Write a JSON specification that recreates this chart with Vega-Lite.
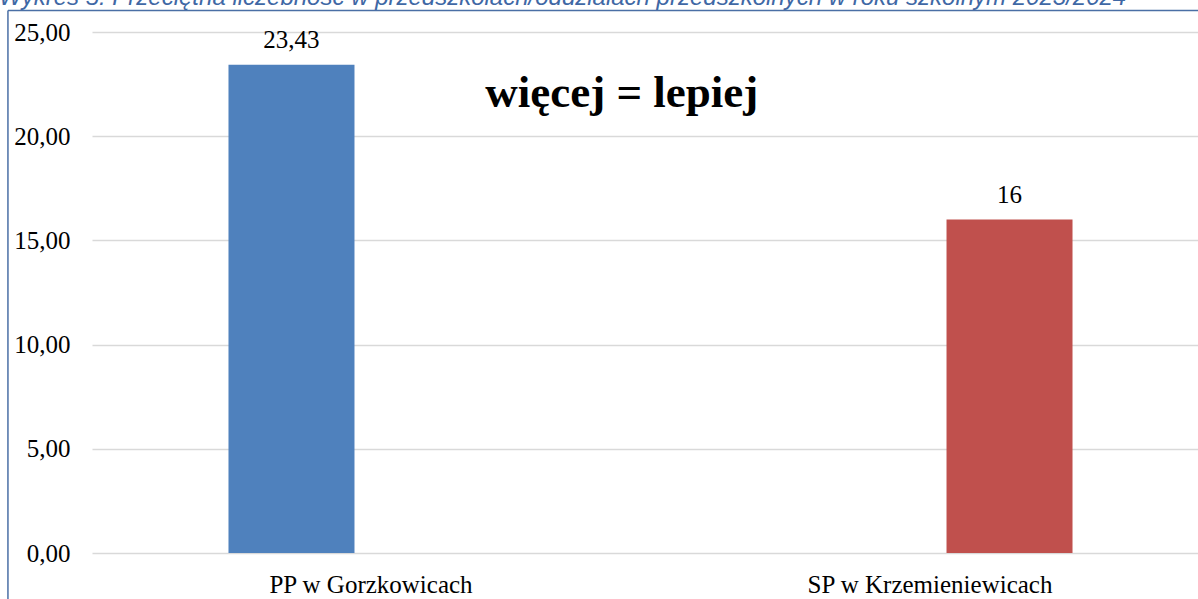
{
  "$schema": "https://vega.github.io/schema/vega-lite/v6.json",
  "width": 1106,
  "height": 521,
  "autosize": {"type": "none"},
  "padding": {"left": 92, "top": 32, "right": 0, "bottom": 46},
  "background": "white",
  "title": {
    "text": "Wykres 5. Przeciętna liczebność w przedszkolach/oddziałach przedszkolnych  w roku szkolnym 2023/2024",
    "anchor": "start",
    "frame": "group",
    "offset": 0,
    "dx": -93,
    "dy": 0,
    "font": "Liberation Sans",
    "fontStyle": "italic",
    "fontWeight": "normal",
    "fontSize": 24,
    "color": "#3F68A5"
  },
  "config": {"view": {"stroke": null}},
  "datasets": {
    "bars": [
      {"placowka": "PP w Gorzkowicach", "seria": "PP w Gorzkowicach", "srednia": 23.43},
      {"placowka": "SP w Krzemieniewicach", "seria": "SP w Krzemieniewicach", "srednia": 16}
    ],
    "note": [{"tekst": "więcej = lepiej", "px": 0.479, "py": 21.4}],
    "frame": [
      {"x1": -0.076, "x2": 1.1, "y1": 26.03, "y2": 26.03},
      {"x1": -0.076, "x2": -0.076, "y1": 26.03, "y2": -3}
    ]
  },
  "layer": [
    {
      "data": {"name": "bars"},
      "encoding": {
        "x": {
          "field": "placowka",
          "type": "nominal",
          "sort": null,
          "scale": {"paddingInner": 0.4902, "paddingOuter": 0.2343, "align": 0.521},
          "axis": {
            "title": null,
            "labelAngle": 0,
            "labelFont": "Liberation Serif",
            "labelFontSize": 25,
            "labelColor": "black",
            "labelPadding": 19,
            "labelLimit": 0,
            "ticks": false,
            "domain": false
          }
        },
        "xOffset": {
          "field": "seria",
          "type": "nominal",
          "scale": {"domain": ["PP w Gorzkowicach", "SP w Krzemieniewicach"], "paddingInner": 0.2075, "paddingOuter": 0}
        },
        "y": {
          "field": "srednia",
          "type": "quantitative",
          "title": null,
          "scale": {"domain": [0, 25], "nice": false},
          "axis": {
            "title": null,
            "values": [0, 5, 10, 15, 20, 25],
            "labelExpr": "replace(format(datum.value, '.2f'), '.', ',')",
            "labelFont": "Liberation Serif",
            "labelFontSize": 25,
            "labelColor": "black",
            "labelPadding": 22,
            "ticks": false,
            "domain": false,
            "grid": true,
            "gridColor": "#D9D9D9",
            "gridWidth": 1.5
          }
        }
      },
      "layer": [
        {
          "mark": {"type": "bar"},
          "encoding": {
            "color": {
              "field": "seria",
              "type": "nominal",
              "scale": {"domain": ["PP w Gorzkowicach", "SP w Krzemieniewicach"], "range": ["#4F81BD", "#C0504D"]},
              "legend": null
            }
          }
        },
        {
          "transform": [{"calculate": "replace(toString(datum.srednia), '.', ',')", "as": "etykieta"}],
          "mark": {"type": "text", "baseline": "alphabetic", "dy": -17, "font": "Liberation Serif", "fontSize": 25, "color": "black"},
          "encoding": {"text": {"field": "etykieta", "type": "nominal"}}
        }
      ]
    },
    {
      "data": {"name": "frame"},
      "mark": {"type": "rule", "color": "#4A6FA5", "strokeWidth": 1.5},
      "encoding": {
        "x": {"field": "x1", "type": "quantitative", "scale": {"domain": [0, 1], "nice": false, "zero": false}, "axis": null},
        "x2": {"field": "x2"},
        "y": {"field": "y1", "type": "quantitative", "title": null},
        "y2": {"field": "y2"}
      }
    },
    {
      "data": {"name": "note"},
      "mark": {"type": "text", "baseline": "alphabetic", "align": "center", "font": "Liberation Serif", "fontWeight": "bold", "fontSize": 45, "color": "black"},
      "encoding": {
        "x": {"field": "px", "type": "quantitative", "scale": {"domain": [0, 1], "nice": false, "zero": false}, "axis": null},
        "y": {"field": "py", "type": "quantitative", "title": null},
        "text": {"field": "tekst", "type": "nominal"}
      }
    }
  ],
  "resolve": {"scale": {"x": "independent"}}
}
